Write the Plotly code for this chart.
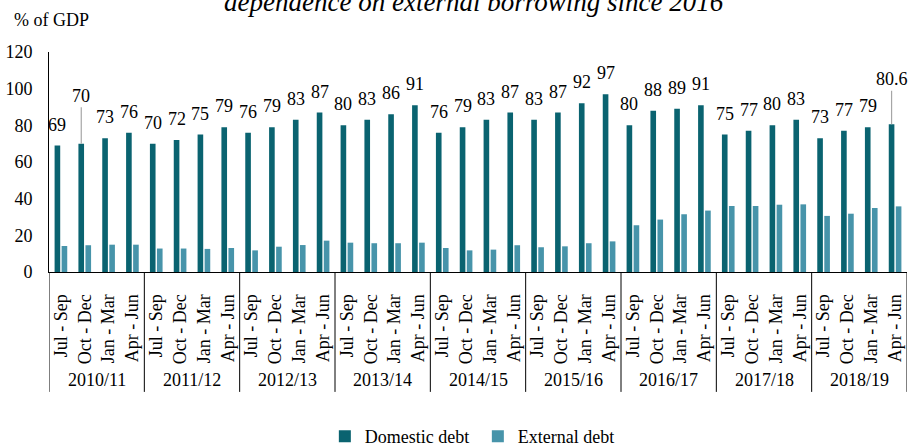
import plotly.graph_objects as go

# Fiscal years and the quarters within each
years = ["2010/11", "2011/12", "2012/13", "2013/14", "2014/15",
         "2015/16", "2016/17", "2017/18", "2018/19"]
quarters = ["Jul - Sep", "Oct - Dec", "Jan - Mar", "Apr - Jun"]

# Debt stock, % of GDP, one value per quarter
domestic = [69, 70, 73, 76, 70, 72, 75, 79, 76, 79, 83, 87,
            80, 83, 86, 91, 76, 79, 83, 87, 83, 87, 92, 97,
            80, 88, 89, 91, 75, 77, 80, 83, 73, 77, 79, 80.6]
external = [14.2, 14.6, 14.9, 14.9, 12.8, 12.8, 12.6, 13.1,
            11.8, 13.8, 14.7, 17.1, 16.0, 15.7, 15.7, 16.0,
            13.1, 11.8, 12.2, 14.6, 13.5, 14.0, 15.7, 16.7,
            25.5, 28.6, 31.5, 33.5, 36.0, 36.0, 36.7, 36.9,
            30.6, 31.8, 34.9, 35.8]

# Labels carried on a leader line: index -> vertical offset (px)
leader_labels = {1: -48, 35: -45}

FONT = "Liberation Serif, Times New Roman, serif"
DOM_COLOR = "#0a6370"
EXT_COLOR = "#4794aa"

cats = [f"{y} {q}" for y in years for q in quarters]
tick_text = [q for _ in years for q in quarters]

fig = go.Figure()
fig.add_trace(go.Bar(x=cats, y=domestic, name="Domestic debt",
                     marker=dict(color=DOM_COLOR, line=dict(width=0))))
fig.add_trace(go.Bar(x=cats, y=external, name="External debt",
                     marker=dict(color=EXT_COLOR, line=dict(width=0))))

annotations = []
# Value labels above the domestic bars
for i, v in enumerate(domestic):
    label = f"{v:g}"
    if i in leader_labels:
        annotations.append(dict(
            x=i, y=v, xref="x", yref="y", text=label, xshift=-3.5,
            showarrow=True, arrowhead=0, arrowwidth=1.2,
            arrowcolor="#a6a6a6", ax=0, ay=leader_labels[i], standoff=0,
            font=dict(family=FONT, size=18, color="black")))
    else:
        annotations.append(dict(
            x=i, y=v, xref="x", yref="y", text=label, xshift=-3.5,
            yshift=21, showarrow=False,
            font=dict(family=FONT, size=18, color="black")))

# Fiscal-year group labels under the quarter labels
for k, y in enumerate(years):
    annotations.append(dict(
        x=4 * k + 1.5, y=-0.491, xref="x", yref="paper", text=y,
        showarrow=False, yanchor="middle",
        font=dict(family=FONT, size=18, color="black")))

# Unit label and title line
annotations.append(dict(
    x=-0.0431, y=1.145, xref="paper", yref="paper", text="% of GDP",
    xanchor="left", yanchor="middle", showarrow=False,
    font=dict(family=FONT, size=18, color="black")))
annotations.append(dict(
    x=0.495, y=1.226, xref="paper", yref="paper",
    text="<i>dependence on external borrowing since 2016</i>",
    xanchor="center", yanchor="middle", showarrow=False,
    font=dict(family=FONT, size=27, color="black")))

# Dividers between fiscal-year groups
shapes = []
for k in range(len(years) + 1):
    xpos = 4 * k - 0.5
    shapes.append(dict(type="line", xref="x", yref="paper",
                       x0=xpos, x1=xpos, y0=0, y1=-0.545,
                       line=dict(color="black", width=1)))

fig.update_layout(
    width=908, height=448,
    margin=dict(l=49, r=1, t=52, b=176, autoexpand=False),
    paper_bgcolor="white", plot_bgcolor="white",
    font=dict(family=FONT, size=18, color="black"),
    barmode="group", bargap=0.41, bargroupgap=0.2,
    showlegend=True,
    legend=dict(orientation="h", x=0.3215, xanchor="left",
                y=-0.748, yanchor="middle",
                font=dict(family=FONT, size=18, color="black"),
                itemwidth=30, entrywidth=108),
    annotations=annotations,
    shapes=shapes,
)
fig.update_xaxes(type="category", range=[-0.5, 35.5],
                 tickmode="array", tickvals=cats, ticktext=tick_text,
                 tickangle=-90, ticks="", showline=True,
                 linecolor="black", linewidth=1, showgrid=False,
                 automargin=False, ticklabelstandoff=14,
                 tickfont=dict(family=FONT, size=18, color="black"))
fig.update_yaxes(range=[0, 120], dtick=20, ticks="", showline=True,
                 linecolor="black", linewidth=1, showgrid=False,
                 zeroline=False, automargin=False, ticklabelstandoff=12,
                 tickfont=dict(family=FONT, size=18, color="black"))

fig.write_html("out.html")
